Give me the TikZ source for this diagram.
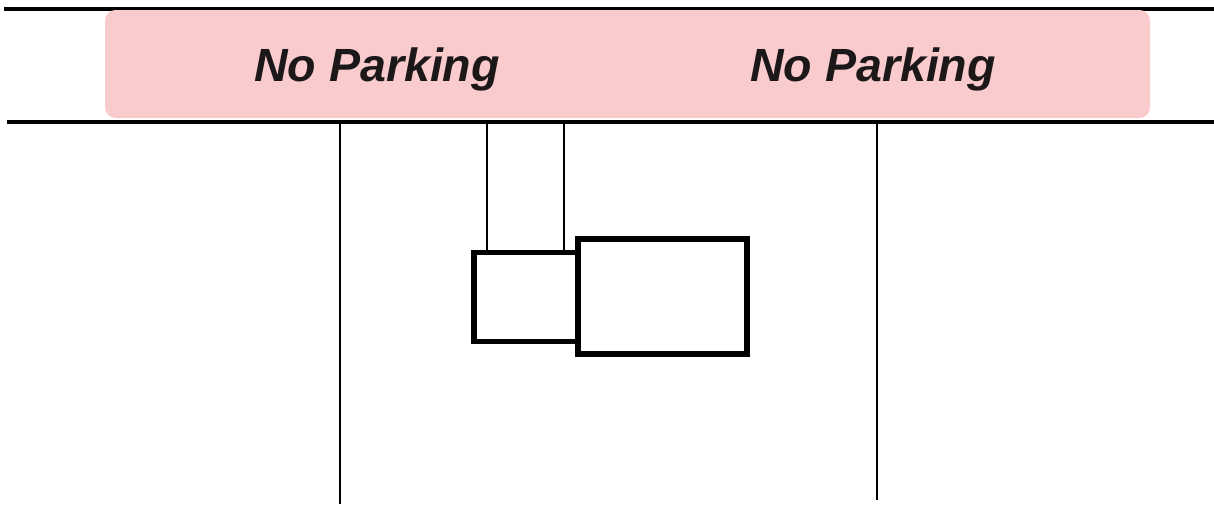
\documentclass[tikz,border=0pt]{standalone}
\usepackage{fontspec}
\setmainfont{Liberation Sans}
\definecolor{signpink}{RGB}{250,203,205}
\definecolor{signtext}{RGB}{28,24,26}
\tikzset{
  road/.style={line width=2pt},
  lot/.style={line width=1.1pt},
  unit/.style={draw, line width=3.3pt, fill=white, inner sep=0pt}
}
\begin{document}
\begin{tikzpicture}[x=0.02cm, y=-0.02cm]
\useasboundingbox (0,0) rectangle (1214,504);
  \draw[road](4,9)--(1214,9);
  \draw[road](7,122)--(1214,122);

\fill[signpink, rounded corners=6pt](105,10) rectangle (1150,118);
\node[text=signtext, font=\fontsize{26.5}{30}\selectfont\bfseries\itshape] (signL) at (377,69) {No Parking};
\node[text=signtext, font=\fontsize{26.5}{30}\selectfont\bfseries\itshape] (signR) at (873,69) {No Parking};

\draw[lot](340,123)--(340,504);
\draw[lot](877,123)--(877,500);

\node[unit, minimum width=104*0.02cm, minimum height=89*0.02cm] (small) at (526,297) {};
\node[unit, minimum width=169*0.02cm, minimum height=115*0.02cm] (large) at (662.5,296.5) {};
\coordinate (hookA) at (487,123);\coordinate (hookB) at (564,123);
\draw[lot](hookA)--(hookA |- small.north);
\draw[lot](hookB)--(hookB |- small.north);
      
    \end{tikzpicture}
\end{document}
